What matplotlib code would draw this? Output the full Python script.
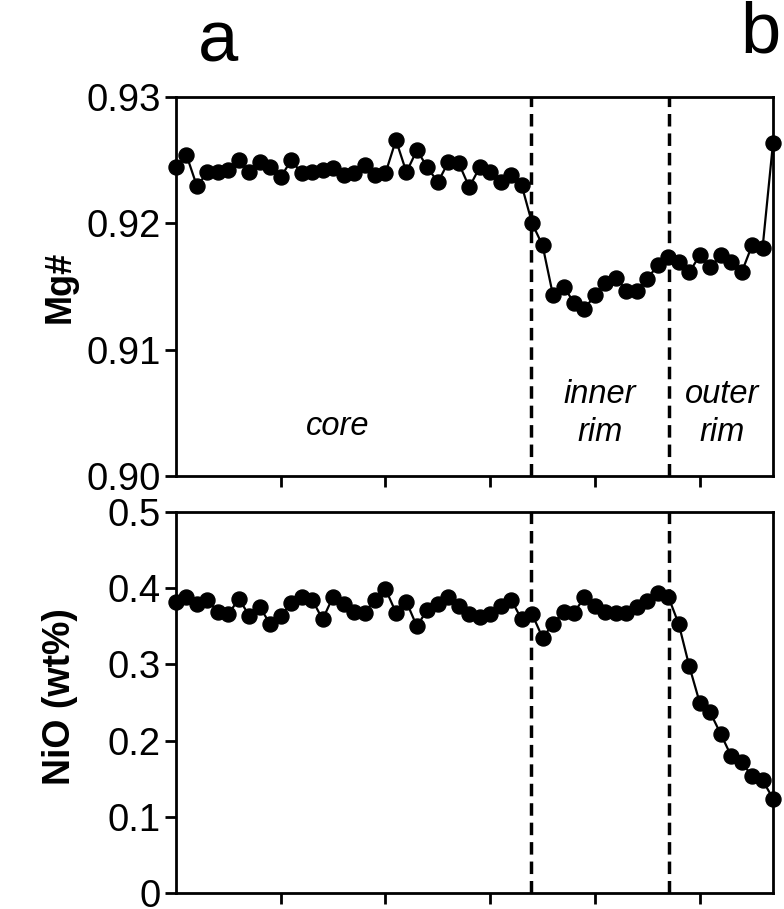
import matplotlib
matplotlib.use("Agg")
import matplotlib.pyplot as plt
import numpy as np

plt.rcParams['font.family'] = ['Liberation Sans', 'DejaVu Sans']

# distance along traverse (arbitrary units), 58 analysis points
distance = np.linspace(0, 570, 58)

mg_number = [0.92444, 0.92540, 0.92294, 0.92405, 0.92405, 0.92421, 0.92500, 0.92405,
             0.92484, 0.92444, 0.92365, 0.92500, 0.92397, 0.92405, 0.92421, 0.92437,
             0.92381, 0.92397, 0.92460, 0.92381, 0.92397, 0.92659, 0.92405, 0.92579,
             0.92444, 0.92325, 0.92484, 0.92476, 0.92286, 0.92444, 0.92405, 0.92325,
             0.92381, 0.92302, 0.92000, 0.91825, 0.91429, 0.91500, 0.91373, 0.91325,
             0.91429, 0.91524, 0.91571, 0.91468, 0.91468, 0.91563, 0.91667, 0.91730,
             0.91690, 0.91611, 0.91746, 0.91651, 0.91746, 0.91690, 0.91611, 0.91825,
             0.91802, 0.92635]

nio_wt = [0.382, 0.388, 0.379, 0.385, 0.369, 0.366, 0.386, 0.364, 0.375, 0.353,
          0.363, 0.381, 0.389, 0.385, 0.359, 0.389, 0.379, 0.369, 0.368, 0.385,
          0.399, 0.368, 0.382, 0.350, 0.372, 0.379, 0.388, 0.376, 0.366, 0.362,
          0.366, 0.376, 0.385, 0.359, 0.366, 0.335, 0.353, 0.369, 0.368, 0.388,
          0.376, 0.369, 0.368, 0.368, 0.375, 0.383, 0.394, 0.389, 0.353, 0.298,
          0.250, 0.237, 0.209, 0.180, 0.172, 0.153, 0.148, 0.124]

zone_boundaries = [339, 471]
mg_ticks = [0.90, 0.91, 0.92, 0.93]
mg_ticklabels = ['0.90', '0.91', '0.92', '0.93']
nio_ticks = [0, 0.1, 0.2, 0.3, 0.4, 0.5]
nio_ticklabels = ['0', '0.1', '0.2', '0.3', '0.4', '0.5']
x_ticks = [100, 200, 300, 400, 500]

W, H = 784, 909
fig = plt.figure(figsize=(W / 100, H / 100), dpi=100)
left = 176 / W
width = 597 / W
ax1 = fig.add_axes([left, 1 - 476 / H, width, 379 / H])
ax2 = fig.add_axes([left, 1 - 893 / H, width, 381 / H])

tick_fs = 27.5
for ax in (ax1, ax2):
    for s in ax.spines.values():
        s.set_linewidth(2.0)
    ax.set_xlim(0, 570)
    ax.set_xticks(x_ticks)
    ax.set_xticklabels([])
    ax.tick_params(axis='both', direction='out', length=8, width=2.0,
                   labelsize=tick_fs, pad=3)
    for xb in zone_boundaries:
        ax.axvline(xb, color='black', lw=2.5, ls=(0, (3.6, 2.0)), zorder=1)

ax1.plot(distance, mg_number, color='black', lw=1.6, marker='o', ms=10.8,
         clip_on=False, zorder=3)
ax1.set_ylim(0.90, 0.93)
ax1.set_yticks(mg_ticks)
ax1.set_yticklabels(mg_ticklabels)

ax2.plot(distance, nio_wt, color='black', lw=1.6, marker='o', ms=10.8,
         clip_on=False, zorder=3)
ax2.set_ylim(0, 0.5)
ax2.set_yticks(nio_ticks)
ax2.set_yticklabels(nio_ticklabels)

fig.text(60 / W, 1 - 287 / H, 'Mg#', rotation=90, fontsize=26, fontweight='bold',
         ha='center', va='center')
fig.text(60 / W, 1 - 697 / H, 'NiO (wt%)', rotation=90, fontsize=27, fontweight='bold',
         ha='center', va='center')

txt_fs = 23.5
ax1.text(0.27, 0.13, 'core', transform=ax1.transAxes, fontsize=txt_fs, style='italic',
         ha='center', va='center')
ax1.text(0.71, 0.215, 'inner', transform=ax1.transAxes, fontsize=txt_fs, style='italic',
         ha='center', va='center')
ax1.text(0.71, 0.115, 'rim', transform=ax1.transAxes, fontsize=txt_fs, style='italic',
         ha='center', va='center')
ax1.text(0.915, 0.215, 'outer', transform=ax1.transAxes, fontsize=txt_fs, style='italic',
         ha='center', va='center')
ax1.text(0.915, 0.115, 'rim', transform=ax1.transAxes, fontsize=txt_fs, style='italic',
         ha='center', va='center')

fig.text(218 / W, 1 - 43 / H, 'a', fontsize=52, ha='center', va='center')
fig.text(760 / W, 1 - 34 / H, 'b', fontsize=52, ha='center', va='center')

fig.savefig('out.png', dpi=100)
